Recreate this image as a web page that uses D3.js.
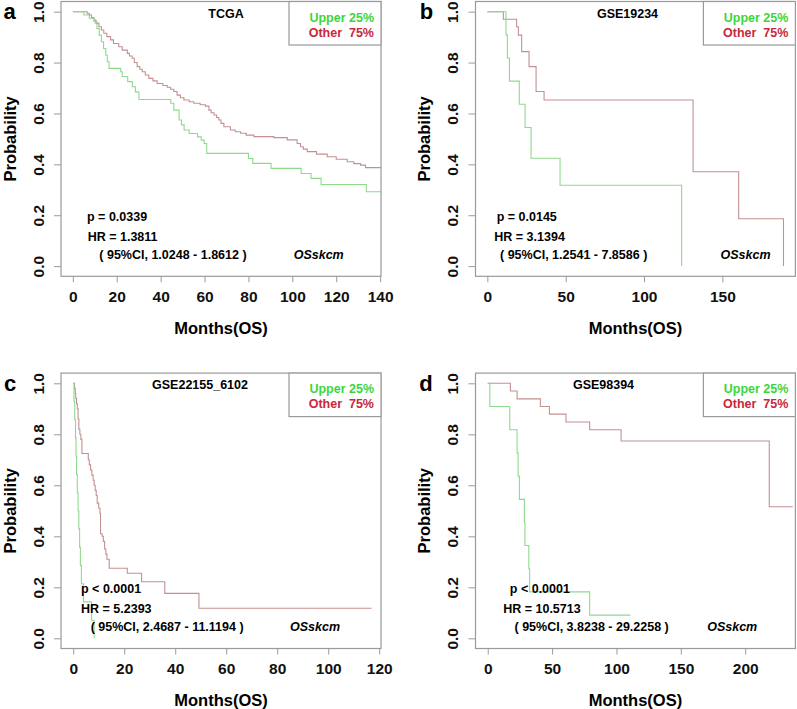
<!DOCTYPE html>
<html>
<head>
<meta charset="utf-8">
<script src="https://cdn.jsdelivr.net/npm/d3@7"></script>
<style>
body { margin: 0; background: #fff; }
svg text { font-family: "Liberation Sans", Arial, sans-serif; font-weight: bold; }
</style>
</head>
<body>
<div id="chart"></div>
<script>
var width = 797, height = 709;

// data: [month, survival]
var tcgaUpper = [[0,1],[5,0.987],[7.5,0.974],[9.6,0.961],[11,0.934],[12,0.908],[13,0.882],[14,0.855],[15,0.829],[15.7,0.803],[16.5,0.777],[21.8,0.764],[22.5,0.745],[25,0.725],[27.1,0.705],[28.5,0.685],[30.1,0.655],[44.6,0.640],[46,0.613],[48.4,0.574],[49.5,0.555],[50.7,0.535],[53,0.521],[56.8,0.508],[58.5,0.495],[59.8,0.482],[61,0.443],[80,0.423],[82,0.404],[90.3,0.384],[104,0.364],[108.5,0.345],[113.1,0.321],[133.7,0.292],[145,0.292]];
var tcgaOther = [[0,1],[6.5,0.993],[7.5,0.987],[8.5,0.977],[9.6,0.967],[10.5,0.954],[11.9,0.941],[13,0.928],[14.1,0.915],[15.5,0.902],[17.2,0.889],[18.5,0.875],[20.9,0.862],[22.5,0.849],[24.8,0.836],[25.8,0.826],[27,0.817],[28,0.800],[29.3,0.784],[30.5,0.774],[31.6,0.764],[33,0.751],[34.6,0.738],[36.5,0.728],[38.4,0.718],[41,0.710],[43,0.703],[44.5,0.695],[46,0.686],[47.5,0.672],[49,0.662],[50.6,0.653],[53,0.646],[55.1,0.640],[58,0.634],[60.4,0.629],[62,0.613],[63,0.603],[64.3,0.594],[65.5,0.584],[66.5,0.574],[67.5,0.561],[68.8,0.548],[71.8,0.535],[74,0.528],[76.4,0.522],[79,0.515],[82.5,0.509],[91.6,0.505],[97.7,0.496],[102.2,0.482],[103.7,0.469],[105,0.460],[106.8,0.450],[111,0.440],[115.9,0.430],[120,0.420],[125,0.410],[128,0.403],[131.1,0.397],[133.3,0.387],[145,0.387]];

var gse19234Upper = [[0,1],[11.9,0.909],[12.8,0.818],[14.1,0.727],[20.4,0.636],[24.1,0.545],[27.9,0.424],[46.4,0.318],[124,0.318],[124,0]];
var gse19234Other = [[0,1],[10.2,0.970],[18.7,0.941],[19.8,0.908],[21.9,0.843],[26.6,0.784],[31.1,0.686],[36.2,0.653],[131.3,0.371],[160.4,0.186],[189,0.186],[189,0]];

var gse22155Upper = [[0,1],[0.3,0.929],[0.6,0.857],[0.9,0.786],[1.1,0.714],[1.3,0.643],[1.6,0.571],[1.9,0.5],[2.2,0.429],[2.5,0.357],[2.8,0.286],[3.2,0.214],[4.0,0.143],[7.2,0.071],[8.2,0.071],[8.2,0]];
var gse22155Other = [[0,1],[0.5,0.98],[0.8,0.96],[1.0,0.94],[1.3,0.92],[1.6,0.90],[1.9,0.86],[2.2,0.82],[2.6,0.80],[3.0,0.78],[3.4,0.725],[5.9,0.70],[6.3,0.68],[6.8,0.66],[7.3,0.64],[7.8,0.62],[8.2,0.60],[8.6,0.58],[9.0,0.56],[9.4,0.53],[10.0,0.51],[10.5,0.49],[10.7,0.41],[11.3,0.40],[11.8,0.38],[12.3,0.35],[12.8,0.33],[13.2,0.31],[14.1,0.275],[21.2,0.255],[26.8,0.222],[35.9,0.176],[49.3,0.118],[117,0.118]];

var gse98394Upper = [[0,1],[1.6,0.909],[17.1,0.818],[22.8,0.727],[23.6,0.636],[24.6,0.545],[28.5,0.455],[28.9,0.364],[31.9,0.273],[32.6,0.182],[79.2,0.091],[110.8,0.091]];
var gse98394Other = [[0,1],[17.6,0.970],[22.8,0.939],[40.9,0.909],[47.9,0.879],[60.8,0.848],[79.2,0.818],[103.6,0.774],[218.7,0.516],[237,0.516]];

var panelLetters = ["a", "b", "c", "d"];
var cohortNames = ["TCGA", "GSE19234", "GSE22155_6102", "GSE98394"];
var pLabels = ["p = 0.0339", "p = 0.0145", "p < 0.0001", "p < 0.0001"];
var hrLabels = ["HR = 1.3811", "HR = 3.1394", "HR = 5.2393", "HR = 10.5713"];
var ciLabels = ["( 95%CI, 1.0248 - 1.8612 )", "( 95%CI, 1.2541 - 7.8586 )",
	"( 95%CI, 2.4687 - 11.1194 )", "( 95%CI, 3.8238 - 29.2258 )"];
var subtypeLabel = "OSskcm";
var legendLabels = ["Upper 25%", "Other  75%"];
var yTicks = [0, 0.2, 0.4, 0.6, 0.8, 1.0];
var xTicks = [[0,20,40,60,80,100,120,140], [0,50,100,150], [0,20,40,60,80,100,120], [0,50,100,150,200]];
var upperCurves = [tcgaUpper, gse19234Upper, gse22155Upper, gse98394Upper];
var otherCurves = [tcgaOther, gse19234Other, gse22155Other, gse98394Other];

// plot boxes (pixels) and text offsets
var frames = [
	{left: 61, right: 381, top: 1.5, bottom: 276.3, xDomain: [-5.4, 140.4], pX: 26, hrX: 26.7, ciX: 38.3, osX: 257.7, titleX: 165, letterX: 9.5},
	{left: 475.5, right: 795.4, top: 1.5, bottom: 276.3, xDomain: [-7.56, 196.6], pX: 21.2, hrX: 18.8, ciX: 24.5, osX: 270, titleX: 152, letterX: 426.5},
	{left: 61, right: 381, top: 373.1, bottom: 648.5, xDomain: [-4.8, 120.7], pX: 20, hrX: 20, ciX: 29.7, osX: 254, titleX: 139, letterX: 10},
	{left: 475.5, right: 795.4, top: 373.1, bottom: 648.5, xDomain: [-9.5, 239], pX: 34.3, hrX: 27.7, ciX: 39, osX: 256.7, titleX: 128, letterX: 426}
];

var greenLine = "#8fd98f", redLine = "#c49090";
var greenText = "#3cd63c", redText = "#c8283a";
var boxColor = "#9a9a9a";

var svg = d3.select("#chart").append("svg")
	.attr("width", width).attr("height", height);

function drawPanel(i) {
	var f = frames[i];
	var x = d3.scaleLinear().domain(f.xDomain).range([f.left, f.right]);
	var y = d3.scaleLinear().domain([-0.04, 1.04]).range([f.bottom, f.top]);
	var g = svg.append("g");

	g.append("clipPath").attr("id", "clip" + i)
		.append("rect").attr("x", f.left).attr("y", f.top)
		.attr("width", f.right - f.left).attr("height", f.bottom - f.top);

	// axes
	var xAxis = d3.axisBottom(x).tickValues(xTicks[i]).tickSize(6).tickSizeOuter(0).tickFormat(d3.format("d"));
	var gx = g.append("g").attr("transform", "translate(0," + f.bottom + ")").call(xAxis);
	gx.select(".domain").remove();
	gx.selectAll("line").attr("stroke", boxColor);
	gx.selectAll("text").attr("y", 14.5).attr("fill", "#111")
		.style("font-size", "15.5px");

	var yAxis = d3.axisLeft(y).tickValues(yTicks).tickSize(7).tickSizeOuter(0).tickFormat(d3.format(".1f"));
	var gy = g.append("g").attr("transform", "translate(" + f.left + ",0)").call(yAxis);
	gy.select(".domain").remove();
	gy.selectAll("line").attr("stroke", boxColor);
	gy.selectAll("text").attr("x", null).attr("dy", null)
		.attr("transform", "translate(-23,0) rotate(-90)")
		.attr("text-anchor", "middle").attr("dy", "0.36em").attr("fill", "#111")
		.style("font-size", "15.5px");

	g.append("text").attr("transform", "translate(" + (f.left - 51) + "," + ((f.top + f.bottom) / 2) + ") rotate(-90)")
		.attr("text-anchor", "middle").attr("dy", "0.36em").style("font-size", "16.5px").text("Probability");
	g.append("text").attr("x", (f.left + f.right) / 2).attr("y", f.bottom + 51.5)
		.attr("text-anchor", "middle").attr("dy", "0.36em").style("font-size", "16.5px").text("Months(OS)");

	// curves
	var line = d3.line().curve(d3.curveStepAfter)
		.x(function(d) { return x(d[0]); }).y(function(d) { return y(d[1]); });
	var curves = g.append("g").attr("clip-path", "url(#clip" + i + ")");
	curves.append("path").datum(otherCurves[i]).attr("d", line)
		.attr("fill", "none").attr("stroke", redLine).attr("stroke-width", 1.1);
	curves.append("path").datum(upperCurves[i]).attr("d", line)
		.attr("fill", "none").attr("stroke", greenLine).attr("stroke-width", 1.1);

	// box
	g.append("rect").attr("x", f.left).attr("y", f.top)
		.attr("width", f.right - f.left).attr("height", f.bottom - f.top)
		.attr("fill", "none").attr("stroke", boxColor).attr("stroke-width", 1.2);

	// legend
	g.append("rect").attr("x", f.right - 92).attr("y", f.top)
		.attr("width", 92).attr("height", 43.5)
		.attr("fill", "#fff").attr("stroke", boxColor).attr("stroke-width", 1.2);
	g.selectAll("text.legend").data(legendLabels).enter().append("text")
		.attr("class", "legend").attr("x", f.right - 7)
		.attr("y", function(d, k) { return f.top + 20 + k * 15; })
		.attr("text-anchor", "end").style("font-size", "12.5px").style("white-space", "pre")
		.attr("fill", function(d, k) { return k === 0 ? greenText : redText; })
		.text(function(d) { return d; });

	// title and stats
	g.append("text").attr("x", f.left + f.titleX).attr("y", f.top + 16)
		.attr("text-anchor", "middle").style("font-size", "12.5px").text(cohortNames[i]);
	var y0 = y(0);
	g.append("text").attr("x", f.left + f.pX).attr("y", y0 - 45.5).style("font-size", "12.5px").text(pLabels[i]);
	g.append("text").attr("x", f.left + f.hrX).attr("y", y0 - 25).style("font-size", "12.5px").text(hrLabels[i]);
	g.append("text").attr("x", f.left + f.ciX).attr("y", y0 - 7.5).style("font-size", "12.5px").text(ciLabels[i]);
	g.append("text").attr("x", f.left + f.osX).attr("y", y0 - 7).attr("text-anchor", "middle")
		.style("font-size", "12.5px").style("font-style", "italic").text(subtypeLabel);

	// panel letter
	svg.append("text").attr("x", f.letterX).attr("y", f.top + 17.5)
		.attr("text-anchor", "middle").style("font-size", "22px").text(panelLetters[i]);
}

for (var i = 0; i < frames.length; i++) drawPanel(i);
</script>
</body>
</html>
